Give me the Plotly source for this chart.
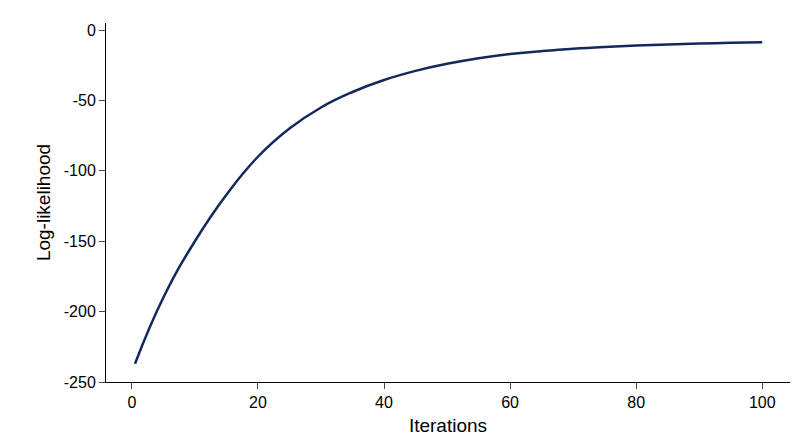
import plotly.graph_objects as go

iterations = [0.5, 5, 10, 15, 20, 25, 30, 35, 40, 45, 50, 55, 60, 65, 70, 75, 80, 85, 90, 95, 100]
loglik = [-237, -190, -150, -117, -90, -70, -55, -44, -35.5, -29, -24, -20, -17, -15, -13.3, -12, -11, -10.2, -9.6, -9.1, -8.7]
ytick_vals = [0, -50, -100, -150, -200, -250]
ytick_text = ["0", "-50", "-100", "-150", "-200", "-250"]

fig = go.Figure(go.Scatter(x=iterations, y=loglik, mode="lines",
                           line=dict(color="#13295e", width=2.5, shape="spline", smoothing=1.3)))
fig.update_layout(
    width=800, height=447, plot_bgcolor="white", paper_bgcolor="white",
    margin=dict(l=98, r=18, t=15, b=73), showlegend=False,
    font=dict(family="Liberation Sans, Arial", size=16, color="black"),
)
fig.update_xaxes(range=[-4.1, 104.4], tickvals=[0, 20, 40, 60, 80, 100], showline=True, automargin=False,
                 linecolor="black", ticks="outside", ticklen=6, showgrid=False, zeroline=False,
                 title=dict(text="Iterations", standoff=8))
fig.update_yaxes(range=[-250, 5], tickvals=ytick_vals, ticktext=ytick_text, showline=True, automargin=False,
                 linecolor="black", ticks="outside", ticklen=6, showgrid=False, zeroline=False,
                 title=dict(text="Log-likelihood", standoff=8))
fig.write_html("out.html")
